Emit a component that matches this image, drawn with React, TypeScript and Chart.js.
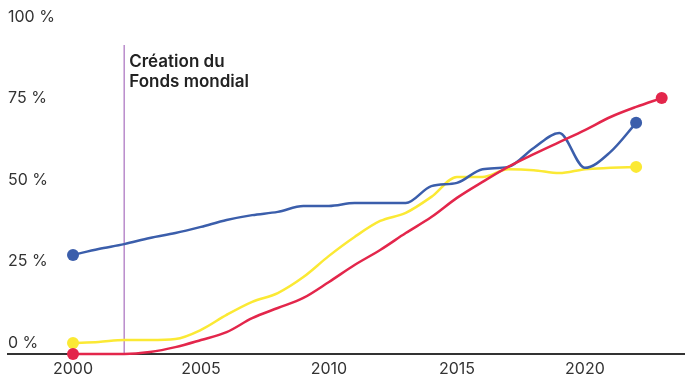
import React, { useEffect, useRef } from "react";
import { Chart, registerables } from "chart.js";

Chart.register(...registerables);

const years = [2000, 2001, 2002, 2003, 2004, 2005, 2006, 2007, 2008, 2009, 2010, 2011, 2012, 2013, 2014, 2015, 2016, 2017, 2018, 2019, 2020, 2021, 2022, 2023];
const tickYears = [2000, 2005, 2010, 2015, 2020];
const yTickValues = [0, 25, 50, 75, 100];

const blueValues = [30.4, 32.2, 33.7, 35.6, 37.1, 39.0, 41.1, 42.6, 43.6, 45.4, 45.4, 46.3, 46.3, 46.3, 51.5, 52.5, 56.7, 57.4, 63.2, 67.8, 57.1, 62.0, 70.9];
const yellowValues = [3.4, 3.7, 4.3, 4.3, 4.6, 7.4, 12.0, 16.0, 18.7, 23.6, 30.1, 35.9, 40.8, 43.3, 48.2, 54.3, 54.3, 56.7, 56.4, 55.5, 56.7, 57.1, 57.4];
const redValues = [0, 0, 0, 0.6, 2.1, 4.3, 6.7, 11.0, 14.1, 17.2, 22.1, 27.3, 31.9, 37.1, 42.0, 47.9, 52.8, 57.4, 61.3, 65.0, 68.7, 72.7, 75.8, 78.5];

const annotationYear = 2002;
const annotationLines = ["Création du", "Fonds mondial"];

const BLUE = "#3b5eab";
const YELLOW = "#fbe934";
const RED = "#e3264b";
const FONT = "Inter, 'Open Sans', sans-serif";

function toPoints(vals: number[]) {
  return vals.map((v, i) => ({ x: years[i], y: v }));
}
function endRadius(vals: number[], r: number) {
  return vals.map((_, i) => (i === 0 || i === vals.length - 1 ? r : 0));
}

const annotationPlugin = {
  id: "fondsAnnotation",
  beforeDatasetsDraw(chart: any) {
    const { ctx, chartArea, scales } = chart;
    const px = scales.x.getPixelForValue(annotationYear);
    ctx.save();
    ctx.strokeStyle = "#b98bcb";
    ctx.lineWidth = 1.5;
    ctx.beginPath();
    ctx.moveTo(px, chartArea.top + 17);
    ctx.lineTo(px, chartArea.bottom);
    ctx.stroke();
    ctx.font = `600 17px ${FONT}`;
    ctx.fillStyle = "#222";
    ctx.textBaseline = "middle";
    ctx.textAlign = "left";
    annotationLines.forEach((t, i) => ctx.fillText(t, px + 5, chartArea.top + 34 + i * 20));
    ctx.restore();
  },
};

export default function App() {
  const ref = useRef<HTMLCanvasElement | null>(null);
  useEffect(() => {
    if (!ref.current) return;
    const mk = (label: string, vals: number[], color: string, order: number) => ({
      label,
      data: toPoints(vals),
      borderColor: color,
      backgroundColor: color,
      borderWidth: 2.5,
      pointRadius: endRadius(vals, 6),
      pointHoverRadius: endRadius(vals, 6),
      pointBackgroundColor: color,
      pointBorderWidth: 0,
      cubicInterpolationMode: "monotone" as const,
      clip: false as any,
      order,
    });
    const chart = new Chart(ref.current, {
      type: "line",
      data: {
        datasets: [
          mk("red", redValues, RED, 0),
          mk("blue", blueValues, BLUE, 1),
          mk("yellow", yellowValues, YELLOW, 2),
        ],
      },
      options: {
        animation: false,
        responsive: true,
        maintainAspectRatio: false,
        layout: { autoPadding: false, padding: { left: 8, right: 0, top: 28, bottom: 0 } },
        plugins: { legend: { display: false }, tooltip: { enabled: false } },
        scales: {
          x: {
            type: "linear",
            min: 1997.46,
            max: 2023.91,
            afterBuildTicks: (scale: any) => {
              scale.ticks = tickYears.map((v) => ({ value: v }));
            },
            afterFit: (scale: any) => {
              scale.height = 29;
            },
            grid: { display: false, drawTicks: false },
            border: { display: true, color: "#333", width: 2 },
            ticks: {
              padding: 6,
              color: "#333",
              font: { family: FONT, size: 16 },
              callback: (v: any) => String(v),
            },
          },
          y: {
            min: 0,
            max: 100,
            afterBuildTicks: (scale: any) => {
              scale.ticks = yTickValues.map((v) => ({ value: v }));
            },
            grid: { display: false, drawTicks: false },
            border: { display: false },
            ticks: {
              mirror: true,
              padding: 0,
              labelOffset: -11,
              color: "#333",
              font: { family: FONT, size: 16 },
              callback: (v: any) => `${v} %`,
            },
          },
        },
      },
      plugins: [annotationPlugin],
    });
    return () => chart.destroy();
  }, []);
  return (
    <div style={{ position: "absolute", left: 0, top: 0, width: 685, height: 383, background: "#fff" }}>
      <canvas ref={ref} />
    </div>
  );
}
